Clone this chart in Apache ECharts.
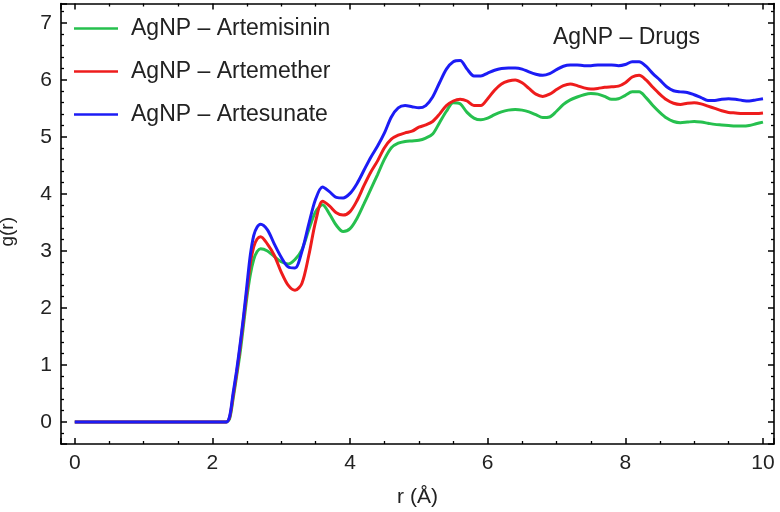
<!DOCTYPE html>
<html><head><meta charset="utf-8">
<script src="https://cdn.jsdelivr.net/npm/echarts@6/dist/echarts.min.js"></script>
<style>html,body{margin:0;padding:0;background:#fff}#c{width:780px;height:512px}</style>
</head><body><div id="c"></div><script>
const seriesNames = ['AgNP – Artemisinin', 'AgNP – Artemether', 'AgNP – Artesunate'];
const titleText = 'AgNP – Drugs';
const xName = 'r (Å)';
const yName = 'g(r)';
const r = [0, 0.5, 1, 1.5, 2, 2.1, 2.2, 2.25, 2.3, 2.35, 2.4, 2.45, 2.5, 2.55, 2.6, 2.65, 2.7,
  2.8, 2.9, 3.0, 3.1, 3.2, 3.3, 3.4, 3.5, 3.6, 3.7, 3.8, 3.9, 4.0, 4.1, 4.2, 4.3, 4.4, 4.5, 4.6, 4.7, 4.8, 4.9,
  5.0, 5.1, 5.2, 5.3, 5.4, 5.5, 5.6, 5.7, 5.8, 5.9, 6.0, 6.1, 6.2, 6.3, 6.4, 6.5, 6.6, 6.7, 6.8, 6.9,
  7.0, 7.1, 7.2, 7.3, 7.4, 7.5, 7.6, 7.7, 7.8, 7.9, 8.0, 8.1, 8.2, 8.3, 8.4, 8.5, 8.6, 8.7, 8.8, 8.9,
  9.0, 9.1, 9.2, 9.3, 9.4, 9.5, 9.6, 9.7, 9.8, 9.9, 10.0];
const artemisinin = [0, 0, 0, 0, 0, 0, 0, 0.06, 0.40, 0.79, 1.19, 1.68, 2.18, 2.58, 2.85, 2.99, 3.04,
  3.00, 2.90, 2.81, 2.77, 2.85, 3.02, 3.37, 3.69, 3.81, 3.65, 3.45, 3.34, 3.39, 3.57, 3.82, 4.08, 4.34, 4.61, 4.81, 4.89, 4.92, 4.93,
  4.94, 4.98, 5.05, 5.25, 5.45, 5.60, 5.58, 5.43, 5.33, 5.30, 5.33, 5.39, 5.44, 5.47, 5.48, 5.47, 5.44, 5.39, 5.34, 5.35,
  5.45, 5.57, 5.65, 5.70, 5.74, 5.76, 5.75, 5.71, 5.66, 5.67, 5.73, 5.79, 5.79, 5.69, 5.55, 5.43, 5.33, 5.27, 5.25, 5.26,
  5.27, 5.26, 5.24, 5.22, 5.21, 5.20, 5.19, 5.19, 5.20, 5.23, 5.26];
const artemether = [0, 0, 0, 0, 0, 0, 0, 0.08, 0.45, 0.84, 1.29, 1.78, 2.28, 2.77, 3.07, 3.21, 3.25,
  3.12, 2.92, 2.63, 2.40, 2.31, 2.43, 2.92, 3.52, 3.87, 3.79, 3.67, 3.63, 3.69, 3.88, 4.14, 4.38, 4.58, 4.81, 4.96, 5.03, 5.07, 5.10,
  5.17, 5.21, 5.27, 5.40, 5.55, 5.63, 5.66, 5.63, 5.55, 5.55, 5.67, 5.82, 5.93, 5.98, 6.00, 5.95, 5.85, 5.75, 5.71, 5.75,
  5.83, 5.90, 5.93, 5.90, 5.86, 5.84, 5.85, 5.87, 5.88, 5.89, 5.95, 6.05, 6.08, 6.00, 5.87, 5.75, 5.65, 5.59, 5.57, 5.59,
  5.60, 5.58, 5.54, 5.50, 5.46, 5.43, 5.42, 5.41, 5.41, 5.41, 5.42];
const artesunate = [0, 0, 0, 0, 0, 0, 0, 0.10, 0.50, 0.89, 1.34, 1.83, 2.38, 2.92, 3.27, 3.42, 3.47,
  3.37, 3.12, 2.89, 2.72, 2.70, 2.99, 3.47, 3.91, 4.12, 4.04, 3.94, 3.93, 4.01, 4.18, 4.41, 4.64, 4.84, 5.07, 5.35, 5.51, 5.55, 5.53,
  5.51, 5.55, 5.70, 5.95, 6.19, 6.32, 6.34, 6.19, 6.07, 6.07, 6.12, 6.17, 6.20, 6.21, 6.21, 6.19, 6.14, 6.10, 6.08, 6.11,
  6.18, 6.24, 6.26, 6.26, 6.25, 6.25, 6.26, 6.26, 6.26, 6.25, 6.27, 6.32, 6.32, 6.24, 6.11, 6.00, 5.88, 5.81, 5.79, 5.78,
  5.74, 5.69, 5.64, 5.64, 5.66, 5.67, 5.66, 5.64, 5.63, 5.65, 5.67];
const colors = ['#26c04e', '#ee1c1c', '#1c1cf5'];
const allValues = [artemisinin, artemether, artesunate];

const FONT = 'Liberation Sans, Arial, sans-serif';
const frameLine = {show: true, onZero: false, lineStyle: {color: '#000', width: 1.6}};
function xAxisCfg(pos, labels) {
  return {
    type: 'value', position: pos, min: -0.2, max: 10.16, splitNumber: 5,
    name: labels ? xName : '', nameLocation: 'middle', nameGap: 43,
    nameTextStyle: {fontSize: 21, fontFamily: FONT, color: '#222'},
    axisLine: frameLine,
    axisTick: {show: true, inside: true, length: 6, lineStyle: {color: '#000', width: 1.5}},
    minorTick: {show: true, splitNumber: 4, length: 3, lineStyle: {color: '#000', width: 1.3}},
    axisLabel: {show: labels, showMinLabel: false, showMaxLabel: false, margin: 9, fontSize: 21, fontFamily: FONT, color: '#222'},
    splitLine: {show: false}, minorSplitLine: {show: false}
  };
}
function yAxisCfg(pos, labels) {
  return {
    type: 'value', position: pos, min: -0.386, max: 7.34, splitNumber: 7,
    name: labels ? yName : '', nameLocation: 'middle', nameGap: 44, nameRotate: 90,
    nameTextStyle: {fontSize: 19, fontFamily: FONT, color: '#222', padding: [0, 16, 0, 0]},
    axisLine: frameLine,
    axisTick: {show: true, inside: true, length: 6, lineStyle: {color: '#000', width: 1.5}},
    minorTick: {show: true, splitNumber: 5, length: 3, lineStyle: {color: '#000', width: 1.3}},
    axisLabel: {show: labels, showMinLabel: false, showMaxLabel: false, margin: 9, fontSize: 21, fontFamily: FONT, color: '#222'},
    splitLine: {show: false}, minorSplitLine: {show: false}
  };
}

const chart = echarts.init(document.getElementById('c'), null, {renderer: 'canvas'});
chart.setOption({
  animation: false,
  backgroundColor: '#fff',
  title: {text: titleText, left: 548, top: 21, textStyle: {fontSize: 23, fontWeight: 'normal', fontFamily: FONT, color: '#222'}},
  legend: {
    orient: 'vertical', left: 69, top: 12, itemWidth: 44, itemHeight: 2.5, itemGap: 20, icon: 'rect',
    textStyle: {fontSize: 23, fontFamily: FONT, color: '#222', padding: [0, 0, 0, 8]},
    data: seriesNames
  },
  grid: {left: 61, right: 6, top: 3.5, bottom: 68, containLabel: false, outerBoundsMode: 'none'},
  xAxis: [xAxisCfg('bottom', true), xAxisCfg('top', false)],
  yAxis: [yAxisCfg('left', true), yAxisCfg('right', false)],
  series: seriesNames.map((n, i) => ({
    name: n, type: 'line', xAxisIndex: 0, yAxisIndex: 0,
    data: r.map((x, j) => [x, allValues[i][j]]),
    showSymbol: false, smooth: 0.3,
    lineStyle: {color: colors[i], width: 3},
    itemStyle: {color: colors[i]}
  }))
});
</script></body></html>
